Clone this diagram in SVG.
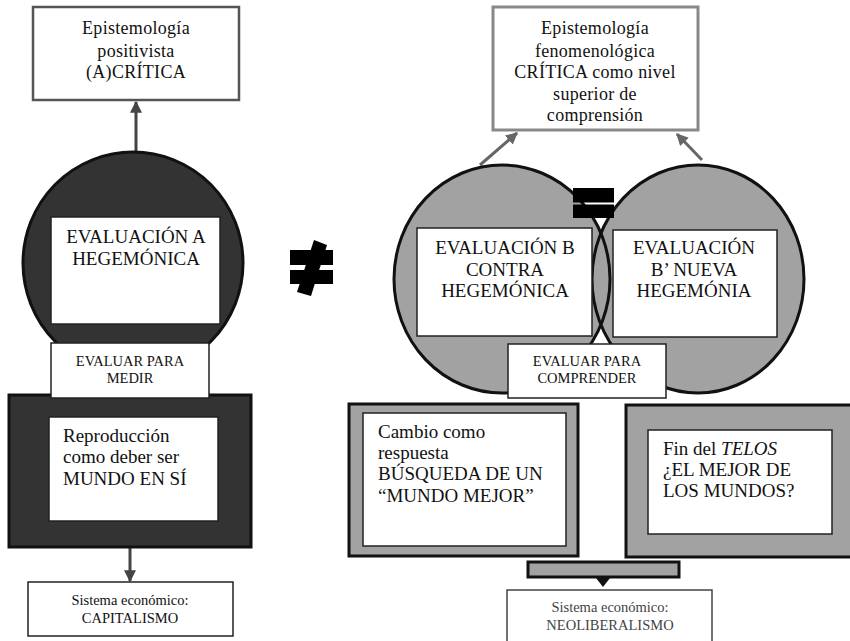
<svg xmlns="http://www.w3.org/2000/svg" width="850" height="641" viewBox="0 0 850 641">
  <style>
    text { font-family: "Liberation Serif", "Times New Roman", Times, "DejaVu Serif", serif; fill: #111; }
    .big { font-size: 19px; }
    .mid { font-size: 18px; letter-spacing: 0.3px; }
    .sm { font-size: 14.5px; }
    .c { text-anchor: middle; }
    .soft { fill: #444; }
    .wbox { fill: #fff; stroke: #222; stroke-width: 1.5; }
    .dark { fill: #333; stroke: #111; stroke-width: 3; }
    .grey { fill: #a2a2a2; stroke: #111; stroke-width: 3; }
  </style>
  <defs>
    <marker id="ahDark" viewBox="0 0 10 10" refX="9" refY="5" markerWidth="4" markerHeight="4" orient="auto">
      <path d="M0,0 L10,5 L0,10 z" fill="#444"/>
    </marker>
    <marker id="ahGrey" viewBox="0 0 10 10" refX="9" refY="5" markerWidth="4" markerHeight="4" orient="auto">
      <path d="M0,0 L10,5 L0,10 z" fill="#666"/>
    </marker>
  </defs>

  <rect width="850" height="641" fill="#fff"/>

  <!-- connectors -->
  <g id="connectors">
    <line x1="136" y1="153" x2="136" y2="102" stroke="#444" stroke-width="3" marker-end="url(#ahDark)"/>
    <line x1="130" y1="547" x2="130" y2="581" stroke="#444" stroke-width="3" marker-end="url(#ahDark)"/>
    <line x1="480" y1="165" x2="517" y2="133" stroke="#666" stroke-width="3" marker-end="url(#ahGrey)"/>
    <line x1="702" y1="160" x2="677" y2="134" stroke="#666" stroke-width="3" marker-end="url(#ahGrey)"/>
    <!-- merging bar toward the neoliberal system -->
    <rect x="528" y="562" width="151" height="15" fill="#a2a2a2" stroke="#111" stroke-width="3"/>
    <polygon points="596,578 610,578 603,587" fill="#111"/>
  </g>

  <!-- left column -->
  <g id="epist-positivista">
    <rect x="33" y="7" width="206" height="93" fill="#fff" stroke="#555" stroke-width="2.5"/>
    <text class="mid c" x="136" y="34">Epistemología</text>
    <text class="mid c" x="136" y="57">positivista</text>
    <text class="mid c" x="136" y="78">(A)CRÍTICA</text>
  </g>

  <g id="evaluacion-a">
    <ellipse cx="133" cy="263" rx="110" ry="111" fill="#333" stroke="#111" stroke-width="3"/>
    <rect class="wbox" x="51" y="217" width="169" height="107"/>
    <text class="big c" x="136" y="243">EVALUACIÓN A</text>
    <text class="big c" x="136" y="265">HEGEMÓNICA</text>
  </g>

  <g id="reproduccion">
    <rect class="dark" x="9" y="395" width="242" height="152"/>
    <rect class="wbox" x="49" y="417" width="169" height="104"/>
    <text class="big" x="63" y="442">Reproducción</text>
    <text class="big" x="63" y="463">como deber ser</text>
    <text class="big" x="63" y="485">MUNDO EN SÍ</text>
  </g>

  <g id="evaluar-medir">
    <rect class="wbox" x="51" y="343" width="158" height="55"/>
    <text class="sm c" x="130" y="366">EVALUAR PARA</text>
    <text class="sm c" x="130" y="383">MEDIR</text>
  </g>

  <g id="capitalismo">
    <rect x="28" y="582" width="205" height="54" fill="#fff" stroke="#222" stroke-width="1.5"/>
    <text class="sm c" x="130" y="605">Sistema económico:</text>
    <text class="sm c" x="130" y="623">CAPITALISMO</text>
  </g>

  <!-- not-equal sign between the two sides -->
  <g id="distinto">
    <rect x="290" y="250" width="43" height="15" fill="#000"/>
    <rect x="290" y="270" width="43" height="14" fill="#000"/>
    <polygon points="314,240 327,245 311,296 297,292" fill="#000"/>
  </g>

  <!-- right column -->
  <g id="epist-fenomenologica">
    <rect x="493" y="7" width="205" height="123" fill="#fff" stroke="#888" stroke-width="3"/>
    <text class="mid c" x="595" y="34">Epistemología</text>
    <text class="mid c" x="595" y="57">fenomenológica</text>
    <text class="mid c" x="595" y="78">CRÍTICA como nivel</text>
    <text class="mid c" x="595" y="100">superior de</text>
    <text class="mid c" x="595" y="121">comprensión</text>
  </g>

  <g id="circulos-b">
    <ellipse cx="502" cy="279" rx="108" ry="114" fill="#a2a2a2"/>
    <ellipse cx="698" cy="279" rx="106" ry="114" fill="#a2a2a2"/>
    <ellipse cx="502" cy="279" rx="108" ry="114" fill="none" stroke="#111" stroke-width="3"/>
    <ellipse cx="698" cy="279" rx="106" ry="114" fill="none" stroke="#111" stroke-width="3"/>
  </g>

  <g id="evaluacion-b">
    <rect class="wbox" x="417" y="228" width="175" height="108"/>
    <text class="big c" x="505" y="254">EVALUACIÓN B</text>
    <text class="big c" x="505" y="276">CONTRA</text>
    <text class="big c" x="505" y="297">HEGEMÓNICA</text>
  </g>

  <g id="evaluacion-b-prima">
    <rect class="wbox" x="613" y="230" width="164" height="107"/>
    <text class="big c" x="694" y="254">EVALUACIÓN</text>
    <text class="big c" x="694" y="276">B’ NUEVA</text>
    <text class="big c" x="694" y="297">HEGEMÓNIA</text>
  </g>

  <g id="igual">
    <rect x="573" y="188" width="41" height="14.5" fill="#000"/>
    <rect x="573" y="204.5" width="41" height="13.5" fill="#000"/>
  </g>

  <g id="evaluar-comprender">
    <rect class="wbox" x="508" y="344" width="158" height="54"/>
    <text class="sm c" x="587" y="366">EVALUAR PARA</text>
    <text class="sm c" x="587" y="383">COMPRENDER</text>
  </g>

  <g id="cambio">
    <rect class="grey" x="349" y="404" width="229" height="152"/>
    <rect class="wbox" x="363" y="413" width="203" height="133"/>
    <text class="big" x="378" y="438">Cambio como</text>
    <text class="big" x="378" y="459">respuesta</text>
    <text class="big" x="378" y="480">BÚSQUEDA DE UN</text>
    <text class="big" x="378" y="502">“MUNDO MEJOR”</text>
  </g>

  <g id="fin-telos">
    <rect class="grey" x="626" y="405" width="230" height="152"/>
    <rect class="wbox" x="648" y="430" width="184" height="104"/>
    <text class="big" x="663" y="455">Fin del <tspan font-style="italic">TELOS</tspan></text>
    <text class="big" x="663" y="476">¿EL MEJOR DE</text>
    <text class="big" x="663" y="497">LOS MUNDOS?</text>
  </g>

  <g id="neoliberalismo">
    <rect x="507" y="590" width="205" height="60" fill="#fff" stroke="#444" stroke-width="1.5"/>
    <text class="sm c soft" x="610" y="612">Sistema económico:</text>
    <text class="sm c soft" x="610" y="630">NEOLIBERALISMO</text>
  </g>
</svg>
